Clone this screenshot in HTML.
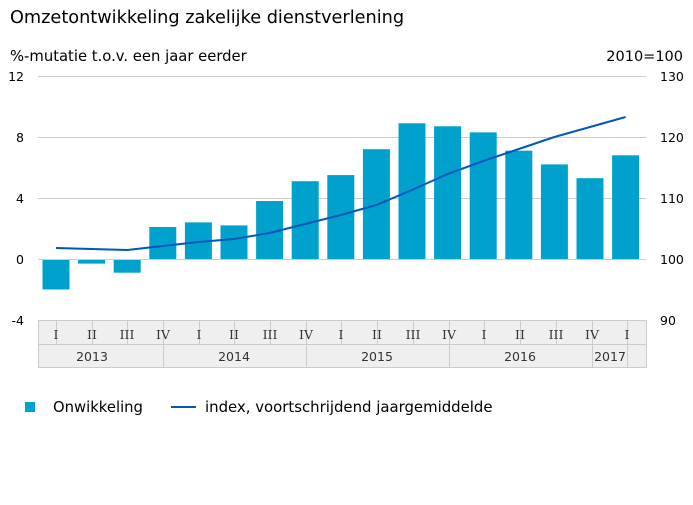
<!DOCTYPE html>
<html><head><style>body{margin:0;background:#fff}</style></head><body>
<svg width="693" height="500" xmlns="http://www.w3.org/2000/svg" font-family="DejaVu Sans, Liberation Sans, sans-serif">
<rect width="693" height="500" fill="#fff"/>
<text x="10" y="23" font-size="17.7" fill="#000">Omzetontwikkeling zakelijke dienstverlening</text>
<text x="10" y="61" font-size="14.8" fill="#000">%-mutatie t.o.v. een jaar eerder</text>
<text x="683" y="61" font-size="14.5" fill="#000" text-anchor="end">2010=100</text>
<g stroke="#ccc" stroke-width="1">
<line x1="38" y1="76.5" x2="646" y2="76.5"/><line x1="38" y1="137.5" x2="646" y2="137.5"/><line x1="38" y1="198.5" x2="646" y2="198.5"/>
</g>
<g font-size="12.5" fill="#000">
<text x="24" y="81" text-anchor="end">12</text><text x="24" y="142" text-anchor="end">8</text><text x="24" y="203" text-anchor="end">4</text><text x="24" y="264" text-anchor="end">0</text><text x="24" y="325" text-anchor="end">-4</text>
<text x="660" y="81">130</text><text x="660" y="142">120</text><text x="660" y="203">110</text><text x="660" y="264">100</text><text x="660" y="325">90</text>
</g>
<g fill="#00a1cd">
<rect x="42.5" y="259" width="27" height="30.5"/>
<rect x="78.1" y="259" width="27" height="4.6"/>
<rect x="113.7" y="259" width="27" height="13.7"/>
<rect x="149.3" y="227" width="27" height="32"/>
<rect x="184.9" y="222.4" width="27" height="36.6"/>
<rect x="220.5" y="225.4" width="27" height="33.6"/>
<rect x="256.1" y="201" width="27" height="58"/>
<rect x="291.7" y="181.2" width="27" height="77.8"/>
<rect x="327.3" y="175.1" width="27" height="83.9"/>
<rect x="362.9" y="149.2" width="27" height="109.8"/>
<rect x="398.5" y="123.3" width="27" height="135.7"/>
<rect x="434.1" y="126.3" width="27" height="132.7"/>
<rect x="469.7" y="132.4" width="27" height="126.6"/>
<rect x="505.3" y="150.7" width="27" height="108.3"/>
<rect x="540.9" y="164.4" width="27" height="94.6"/>
<rect x="576.5" y="178.2" width="27" height="80.8"/>
<rect x="612.1" y="155.3" width="27" height="103.7"/>
</g>
<line x1="38" y1="259.5" x2="646" y2="259.5" stroke="#ccc"/>
<polyline fill="none" stroke="#0058b8" stroke-width="2" points="56,248 91.6,249 127.2,250 162.8,246 198.4,242 234,239 269.6,233 305.2,224 340.8,215 376.4,205 412,190 447.6,174 483.2,161 518.8,149 554.4,137 590,127 625.6,117"/>
<rect x="38.5" y="320.5" width="608" height="47" fill="#efefef" stroke="#ccc"/>
<line x1="38" y1="344.5" x2="646" y2="344.5" stroke="#ccc"/>
<g stroke="#ccc">
<line x1="56.5" y1="320" x2="56.5" y2="344"/><line x1="92.5" y1="320" x2="92.5" y2="344"/><line x1="127.5" y1="320" x2="127.5" y2="344"/><line x1="163.5" y1="320" x2="163.5" y2="368"/>
<line x1="199.5" y1="320" x2="199.5" y2="344"/><line x1="234.5" y1="320" x2="234.5" y2="344"/><line x1="270.5" y1="320" x2="270.5" y2="344"/><line x1="306.5" y1="320" x2="306.5" y2="368"/>
<line x1="341.5" y1="320" x2="341.5" y2="344"/><line x1="377.5" y1="320" x2="377.5" y2="344"/><line x1="413.5" y1="320" x2="413.5" y2="344"/><line x1="449.5" y1="320" x2="449.5" y2="368"/>
<line x1="484.5" y1="320" x2="484.5" y2="344"/><line x1="520.5" y1="320" x2="520.5" y2="344"/><line x1="556.5" y1="320" x2="556.5" y2="344"/><line x1="592.5" y1="320" x2="592.5" y2="368"/>
<line x1="627.5" y1="320" x2="627.5" y2="368"/>
</g>
<g font-size="12.5" font-family="DejaVu Serif, Liberation Serif, serif" text-anchor="middle" fill="#333">
<text x="56" y="339">I</text><text x="92" y="339">II</text><text x="127" y="339">III</text><text x="163" y="339">IV</text>
<text x="199" y="339">I</text><text x="234" y="339">II</text><text x="270" y="339">III</text><text x="306" y="339">IV</text>
<text x="341" y="339">I</text><text x="377" y="339">II</text><text x="413" y="339">III</text><text x="449" y="339">IV</text>
<text x="484" y="339">I</text><text x="520" y="339">II</text><text x="556" y="339">III</text><text x="592" y="339">IV</text>
<text x="627" y="339">I</text>
</g>
<g font-size="12.5" text-anchor="middle" fill="#333">
<text x="92" y="361">2013</text><text x="234" y="361">2014</text><text x="377" y="361">2015</text><text x="520" y="361">2016</text><text x="610" y="361">2017</text>
</g>
<rect x="25" y="402" width="10" height="10" fill="#00a1cd"/>
<text x="53" y="412" font-size="14.8" fill="#000">Onwikkeling</text>
<line x1="171" y1="407" x2="196" y2="407" stroke="#0058b8" stroke-width="2"/>
<text x="205" y="412" font-size="14.9" fill="#000">index, voortschrijdend jaargemiddelde</text>
</svg>
</body></html>
